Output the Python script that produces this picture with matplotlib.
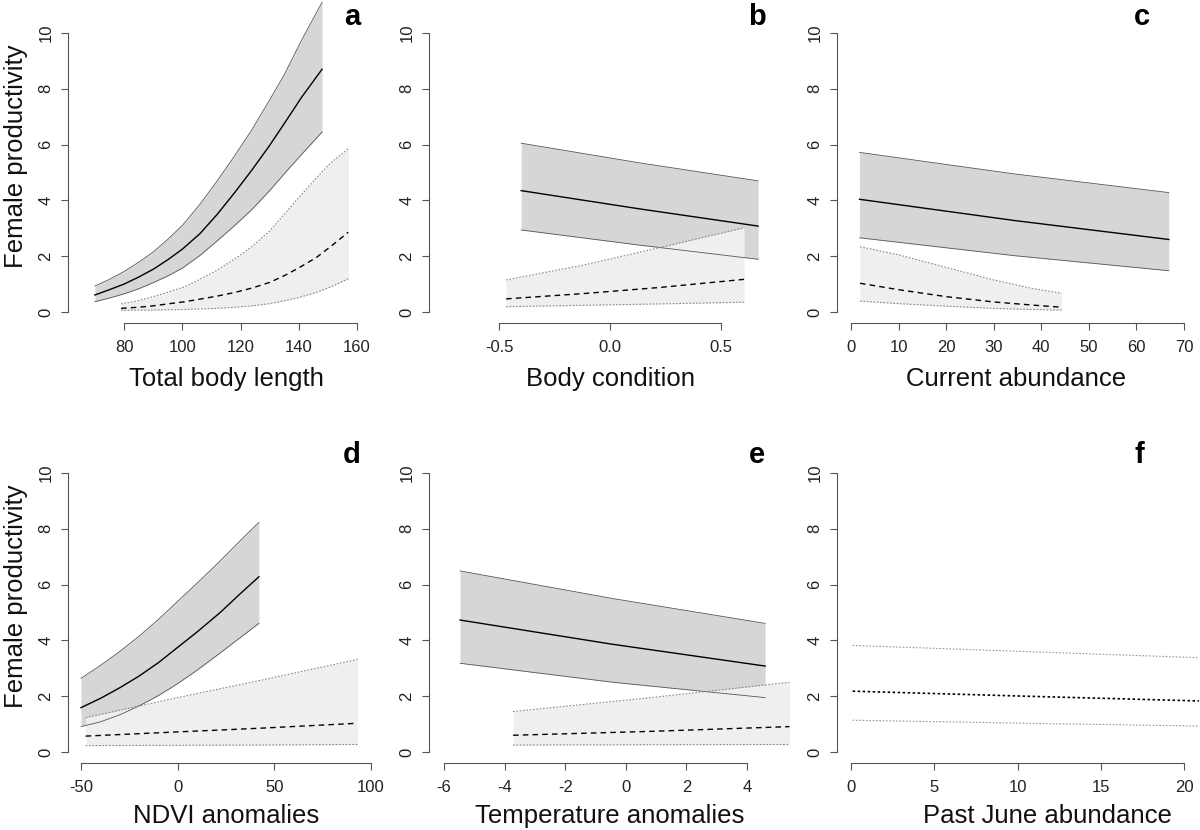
import numpy as np
import matplotlib.pyplot as plt

plt.rcParams['font.family'] = ['Liberation Sans', 'DejaVu Sans']

W, H = 1200, 830

# ---- data ----
# a: total body length
a_x_dark = [70, 75, 80, 85, 90, 95, 100, 106, 112, 118, 124, 130, 135, 141, 148]
a_mean_dark = [0.61, 0.8, 1.0, 1.25, 1.53, 1.87, 2.25, 2.8, 3.5, 4.28, 5.1, 5.97, 6.75, 7.7, 8.7]
a_up_dark = [0.93, 1.17, 1.45, 1.78, 2.15, 2.6, 3.1, 3.85, 4.7, 5.6, 6.55, 7.6, 8.5, 9.75, 11.1]
a_lo_dark = [0.37, 0.5, 0.65, 0.83, 1.05, 1.29, 1.57, 2.02, 2.55, 3.1, 3.68, 4.35, 4.95, 5.65, 6.45]
a_x_light = [79, 85, 90, 95, 101, 106, 112, 118, 124, 130, 135, 140, 146, 151, 157]
a_mean_light = [0.13, 0.17, 0.22, 0.29, 0.37, 0.46, 0.57, 0.7, 0.86, 1.06, 1.3, 1.58, 1.95, 2.35, 2.86]
a_up_light = [0.29, 0.41, 0.55, 0.71, 0.91, 1.17, 1.5, 1.9, 2.35, 2.9, 3.5, 4.1, 4.8, 5.35, 5.85]
a_lo_light = [0.06, 0.065, 0.07, 0.08, 0.09, 0.11, 0.13, 0.17, 0.22, 0.3, 0.4, 0.52, 0.7, 0.9, 1.19]

# b: body condition
b_x_dark = [-0.40, 0.13, 0.667]
b_mean_dark = [4.35, 3.7, 3.08]
b_up_dark = [6.05, 5.35, 4.70]
b_lo_dark = [2.94, 2.4, 1.89]
b_x_light = [-0.468, -0.12, 0.225, 0.604]
b_mean_light = [0.47, 0.66, 0.88, 1.17]
b_up_light = [1.15, 1.68, 2.31, 3.02]
b_lo_light = [0.19, 0.24, 0.29, 0.35]

# c: current abundance
c_x_dark = [1.8, 34.3, 66.8]
c_mean_dark = [4.04, 3.28, 2.60]
c_up_dark = [5.72, 4.95, 4.28]
c_lo_dark = [2.66, 2.02, 1.48]
c_x_light = [1.9, 10, 20, 30, 38, 44.3]
c_mean_light = [1.03, 0.8, 0.55, 0.36, 0.25, 0.17]
c_up_light = [2.34, 2.05, 1.6, 1.15, 0.85, 0.67]
c_lo_light = [0.39, 0.3, 0.21, 0.13, 0.09, 0.07]

# d: NDVI anomalies
d_x_dark = [-50, -40, -30, -20, -10, 0, 10, 22, 32, 42]
d_mean_dark = [1.59, 1.92, 2.3, 2.72, 3.2, 3.75, 4.3, 5.0, 5.65, 6.28]
d_up_dark = [2.64, 3.1, 3.6, 4.15, 4.75, 5.4, 6.05, 6.85, 7.55, 8.23]
d_lo_dark = [0.91, 1.08, 1.33, 1.65, 2.02, 2.45, 2.93, 3.55, 4.08, 4.61]
d_x_light = [-47.6, 0, 45, 93]
d_mean_light = [0.57, 0.72, 0.86, 1.03]
d_up_light = [1.23, 1.95, 2.6, 3.32]
d_lo_light = [0.23, 0.24, 0.25, 0.27]

# e: temperature anomalies
e_x_dark = [-5.47, -0.43, 4.6]
e_mean_dark = [4.73, 3.86, 3.08]
e_up_dark = [6.49, 5.5, 4.61]
e_lo_dark = [3.18, 2.5, 1.95]
e_x_light = [-3.72, 0.84, 5.4]
e_mean_light = [0.60, 0.74, 0.91]
e_up_light = [1.45, 1.95, 2.50]
e_lo_light = [0.25, 0.26, 0.27]

# f: past June abundance (only lines)
f_x = [0.1, 10.5, 20.9]
f_mean = [2.18, 2.0, 1.83]
f_up = [3.82, 3.6, 3.38]
f_lo = [1.14, 1.03, 0.93]

xlabels = ["Total body length", "Body condition", "Current abundance",
           "NDVI anomalies", "Temperature anomalies", "Past June abundance"]
letters = ["a", "b", "c", "d", "e", "f"]
xticks = [[80, 100, 120, 140, 160], [-0.5, 0.0, 0.5], [0, 10, 20, 30, 40, 50, 60, 70],
          [-50, 0, 50, 100], [-6, -4, -2, 0, 2, 4], [0, 5, 10, 15, 20]]
xticklabels = [["80", "100", "120", "140", "160"], ["-0.5", "0.0", "0.5"],
               ["0", "10", "20", "30", "40", "50", "60", "70"],
               ["-50", "0", "50", "100"], ["-6", "-4", "-2", "0", "2", "4"],
               ["0", "5", "10", "15", "20"]]
yticks = [0, 2, 4, 6, 8, 10]

# ---- layout (pixels) ----
# L, R, T, B, (px, val) x calibration, (px, val) y calibration, xlabel centre x
layout = [
    (68, 365, 0, 323, (124, 80, 357, 160), (312, 0, 33, 10), 226),
    (429, 770, 0, 323, (499, -0.5, 721, 0.5), (312, 0, 33, 10), 610),
    (837, 1195, 0, 323, (851, 0, 1184, 70), (312, 0, 33, 10), 1016),
    (68, 375, 445, 763, (81, -50, 371, 100), (752, 0, 473, 10), 226),
    (429, 795, 445, 763, (444, -6, 747, 4), (752, 0, 473, 10), 610),
    (837, 1200, 445, 763, (851, 0, 1184, 20), (752, 0, 473, 10), 1047),
]
letter_pos = [(352, 25), (757, 25), (1142, 25), (352, 463), (757, 463), (1139, 463)]

DARK = '#d6d6d6'
LIGHT = '#efefef'

fig = plt.figure(figsize=(12, 8.3), dpi=100)


def lim(p0, v0, p1, v1, pa, pb):
    s = (v1 - v0) / (p1 - p0)
    return v0 + (pa - p0) * s, v0 + (pb - p0) * s


def band_dark(ax, x, lo, mean, up):
    ax.fill_between(x, lo, up, color=DARK, lw=0, zorder=1)
    ax.plot(x, up, color='#555555', lw=0.6, zorder=3)
    ax.plot(x, lo, color='#555555', lw=0.6, zorder=3)
    ax.plot(x, mean, color='black', lw=1.0, zorder=4)


def band_light(ax, x, lo, mean, up):
    ax.fill_between(x, lo, up, color=LIGHT, lw=0, zorder=2)
    ax.plot(x, up, color='#888888', lw=0.8, ls=(0, (1.5, 1.5)), zorder=3)
    ax.plot(x, lo, color='#888888', lw=0.8, ls=(0, (1.5, 1.5)), zorder=3)
    ax.plot(x, mean, color='black', lw=1.0, ls=(0, (4, 3)), zorder=4)


axes = []
for i, (L, R, T, B, xc, yc, xl) in enumerate(layout):
    ax = fig.add_axes([L / W, 1 - B / H, (R - L) / W, (B - T) / H])
    ax.set_xlim(*lim(xc[0], xc[1], xc[2], xc[3], L, R))
    ax.set_ylim(*lim(yc[0], yc[1], yc[2], yc[3], B, T))
    for s in ['top', 'right']:
        ax.spines[s].set_visible(False)
    for s in ['left', 'bottom']:
        ax.spines[s].set_color('#555555')
        ax.spines[s].set_linewidth(0.8)
    ax.spines['left'].set_bounds(0, 10)
    ax.spines['bottom'].set_bounds(xticks[i][0], xticks[i][-1])
    ax.set_xticks(xticks[i])
    ax.set_xticklabels(xticklabels[i])
    ax.set_yticks(yticks)
    ax.set_yticklabels([str(v) for v in yticks], rotation=90, va='center')
    ax.tick_params(axis='both', length=5, width=0.8, color='#555555',
                   labelsize=12, labelcolor='#222222')
    ax.tick_params(axis='x', pad=7)
    ax.tick_params(axis='y', pad=5.5)
    ax.patch.set_alpha(0)
    fig.text(xl / W, 1 - (386 if i < 3 else 823) / H, xlabels[i],
             ha='center', va='baseline', fontsize=18.5, color='#111111')
    lx, ly = letter_pos[i]
    fig.text(lx / W, 1 - ly / H, letters[i], ha='center', va='baseline',
             fontsize=21, fontweight='bold')
    axes.append(ax)

band_dark(axes[0], a_x_dark, a_lo_dark, a_mean_dark, a_up_dark)
band_light(axes[0], a_x_light, a_lo_light, a_mean_light, a_up_light)
band_dark(axes[1], b_x_dark, b_lo_dark, b_mean_dark, b_up_dark)
band_light(axes[1], b_x_light, b_lo_light, b_mean_light, b_up_light)
band_dark(axes[2], c_x_dark, c_lo_dark, c_mean_dark, c_up_dark)
band_light(axes[2], c_x_light, c_lo_light, c_mean_light, c_up_light)
band_dark(axes[3], d_x_dark, d_lo_dark, d_mean_dark, d_up_dark)
band_light(axes[3], d_x_light, d_lo_light, d_mean_light, d_up_light)
band_dark(axes[4], e_x_dark, e_lo_dark, e_mean_dark, e_up_dark)
band_light(axes[4], e_x_light, e_lo_light, e_mean_light, e_up_light)

axes[5].plot(f_x, f_up, color='#999999', lw=0.8, ls=(0, (1.5, 1.5)))
axes[5].plot(f_x, f_lo, color='#999999', lw=0.8, ls=(0, (1.5, 1.5)))
axes[5].plot(f_x, f_mean, color='black', lw=1.2, ls=(0, (1.5, 1.5)))

for ypos in (156.5, 596.5):
    fig.text(16.5 / W, 1 - ypos / H, "Female productivity", rotation=90,
             ha='center', va='center', fontsize=18.5, color='#111111')

fig.savefig("out.png", dpi=100)
